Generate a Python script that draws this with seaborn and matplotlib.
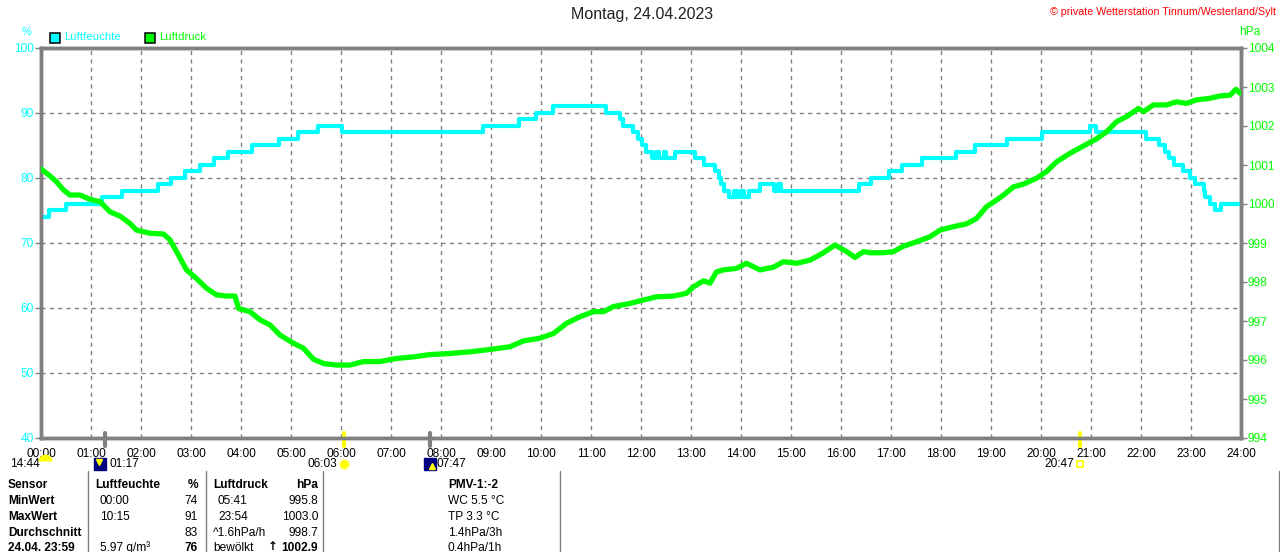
import numpy as np
import pandas as pd
import matplotlib
matplotlib.use("Agg")
import matplotlib.pyplot as plt
import matplotlib.transforms as mtransforms
from matplotlib.patches import Rectangle
from matplotlib.lines import Line2D
import seaborn as sns

# ---------------- data ----------------
hum_t = [0.00, 0.15, 0.49, 1.21, 1.61, 2.34, 2.60, 2.88, 3.17, 3.45, 3.73, 4.21, 4.75, 5.13,
         5.53, 6.02, 8.84, 9.55, 9.90, 10.23, 11.29, 11.58, 11.63, 11.83, 11.93, 12.01, 12.10,
         12.21, 12.30, 12.36, 12.45, 12.50, 12.68, 13.08, 13.25, 13.48, 13.55, 13.59, 13.65,
         13.75, 13.85, 13.92, 14.00, 14.05, 14.15, 14.38, 14.65, 14.74, 14.80, 16.36, 16.60,
         16.96, 17.22, 17.62, 18.29, 18.67, 19.33, 20.02, 20.98, 21.10, 22.09, 22.36, 22.47,
         22.56, 22.66, 22.84, 22.98, 23.08, 23.25, 23.28, 23.38, 23.48, 23.60, 24.00]
hum_v = [74, 75, 76, 77, 78, 79, 80, 81, 82, 83, 84, 85, 86, 87,
         88, 87, 88, 89, 90, 91, 90, 89, 88, 87, 86, 85, 84,
         83, 84, 83, 84, 83, 84, 83, 82, 81, 80, 79, 78,
         77, 78, 77, 78, 77, 78, 79, 78, 79, 78, 79, 80,
         81, 82, 83, 84, 85, 86, 87, 88, 87, 86, 85, 84,
         83, 82, 81, 80, 79, 78, 77, 76, 75, 76, 76]

pres_t = [0.00, 0.18, 0.31, 0.45, 0.58, 0.78, 0.98, 1.18, 1.38, 1.58, 1.78, 1.91, 2.18, 2.45,
          2.58, 2.75, 2.91, 3.11, 3.31, 3.51, 3.71, 3.88, 3.95, 4.18, 4.38, 4.58, 4.78, 5.05,
          5.25, 5.45, 5.65, 5.91, 6.18, 6.45, 6.78, 7.11, 7.45, 7.78, 8.11, 8.58, 8.98, 9.38,
          9.65, 9.98, 10.25, 10.51, 10.78, 11.05, 11.25, 11.45, 11.78, 12.05, 12.31, 12.65,
          12.91, 13.05, 13.25, 13.38, 13.51, 13.65, 13.91, 14.11, 14.38, 14.65, 14.85, 15.11,
          15.38, 15.65, 15.88, 16.11, 16.28, 16.45, 16.58, 16.85, 17.05, 17.25, 17.51, 17.78,
          17.98, 18.25, 18.51, 18.71, 18.91, 19.11, 19.25, 19.45, 19.65, 19.91, 20.11, 20.31,
          20.58, 20.85, 21.11, 21.31, 21.51, 21.71, 21.95, 22.05, 22.25, 22.51, 22.71, 22.91,
          23.11, 23.38, 23.58, 23.78, 23.90, 23.98]
pres_v = [1000.90, 1000.72, 1000.57, 1000.36, 1000.23, 1000.23, 1000.12, 1000.06, 999.80, 999.69,
          999.50, 999.33, 999.25, 999.23, 999.08, 998.69, 998.31, 998.09, 997.84, 997.67, 997.64,
          997.64, 997.32, 997.24, 997.03, 996.90, 996.64, 996.43, 996.30, 996.02, 995.91, 995.87,
          995.87, 995.96, 995.96, 996.04, 996.08, 996.14, 996.16, 996.21, 996.27, 996.34, 996.49,
          996.56, 996.68, 996.94, 997.11, 997.24, 997.24, 997.37, 997.45, 997.54, 997.62, 997.64,
          997.71, 997.88, 998.03, 997.97, 998.26, 998.31, 998.35, 998.48, 998.31, 998.38, 998.52,
          998.48, 998.56, 998.75, 998.95, 998.78, 998.63, 998.78, 998.75, 998.75, 998.78, 998.92,
          999.03, 999.16, 999.33, 999.42, 999.49, 999.63, 999.93, 1000.10, 1000.23, 1000.44,
          1000.51, 1000.66, 1000.83, 1001.08, 1001.30, 1001.49, 1001.67, 1001.85, 1002.11,
          1002.24, 1002.45, 1002.37, 1002.54, 1002.54, 1002.62, 1002.58, 1002.67, 1002.71,
          1002.77, 1002.79, 1002.94, 1002.84]

hour_ticks = list(range(0, 25))
hour_labels = [f"{h:02d}:00" for h in hour_ticks]
hum_ticks = [40, 50, 60, 70, 80, 90, 100]
pres_ticks = list(range(994, 1005))

# events (hours of day) and labels
ev_times = [1 + 17 / 60, 6 + 3 / 60, 7 + 47 / 60, 20 + 47 / 60]
ev_labels = ["01:17", "06:03", "07:47", "20:47"]
ev_colors = ["#808080", "#FFFF00", "#808080", "#FFFF00"]
prev_moon_label = "14:44"

title = "Montag, 24.04.2023"
copyright_txt = "\u00a9 private Wetterstation Tinnum/Westerland/Sylt"

table_col0 = ["Sensor", "MinWert", "MaxWert", "Durchschnitt", "24.04. 23:59"]
table_col1 = ["Luftfeuchte", "00:00", "10:15", "", "5.97 g/m\u00b3"]
table_col2 = ["%", "74", "91", "83", "76"]
table_col3 = ["Luftdruck", "05:41", "23:54", "^1.6hPa/h", "bew\u00f6lkt"]
table_col4 = ["hPa", "995.8", "1003.0", "998.7", "1002.9"]
table_col5 = ["PMV-1:-2", "WC 5.5 \u00b0C", "TP 3.3 \u00b0C", "1.4hPa/3h", "0.4hPa/1h"]

# ---------------- style ----------------
sns.set_style("white")
plt.rcParams["font.family"] = ["Liberation Sans", "DejaVu Sans"]

CYAN = "#00FFFF"
GREEN = "#00FF00"
GRAY = "#808080"
FS = 8.6

W, H = 1280, 552
fig = plt.figure(figsize=(W / 100, H / 100), dpi=100)
fig.patch.set_facecolor("white")


def fx(x):
    return x / W


def fy(y):
    return 1 - y / H


ax = fig.add_axes([fx(41), fy(438), 1200 / W, 390 / H])
ax2 = ax.twinx()

hum_df = pd.DataFrame({"t": hum_t, "v": hum_v})
pres_df = pd.DataFrame({"t": pres_t, "v": pres_v})

sns.lineplot(data=hum_df, x="t", y="v", ax=ax, color=CYAN, linewidth=3.0,
             drawstyle="steps-post", estimator=None, sort=False, zorder=3)
sns.lineplot(data=pres_df, x="t", y="v", ax=ax2, color=GREEN, linewidth=3.8,
             estimator=None, sort=False, zorder=3)

ax.set_xlim(0, 24)
ax.set_ylim(40, 100)
ax2.set_ylim(994, 1004)
ax.set_xticks(hour_ticks)
ax.set_xticklabels(hour_labels)
ax.set_yticks(hum_ticks)
ax2.set_yticks(pres_ticks)
ax.set_xlabel("")
ax.set_ylabel("")
ax2.set_ylabel("")

ax.grid(True, color=GRAY, linestyle=(0, (3, 3)), linewidth=1.0)
ax2.grid(False)
ax.set_axisbelow(True)

for a in (ax, ax2):
    for s in a.spines.values():
        s.set_color(GRAY)
        s.set_linewidth(2.5)

ax.tick_params(axis="x", colors=GRAY, labelcolor="black", length=5, width=1,
               labelsize=FS, pad=2)
ax.tick_params(axis="y", colors=GRAY, labelcolor=CYAN, length=4, width=1,
               labelsize=FS, pad=1)
ax2.tick_params(axis="y", colors=GRAY, labelcolor=GREEN, length=4, width=1,
                labelsize=FS, pad=1)
ax.patch.set_alpha(0)

# event marks across the bottom axis
trans = mtransforms.blended_transform_factory(ax.transData, ax.transAxes)
for t, c in zip(ev_times, ev_colors):
    ax.add_line(Line2D([t, t], [0.013, -0.021], transform=trans, color=c,
                       linewidth=3, clip_on=False, zorder=5))

# event labels/icons below the tick labels
yl = (438 - 464) / 390
dh = 0.12  # hour offset of label from icon

# moonset 01:17
ax.plot([ev_times[0] - 0.1], [yl], transform=trans, marker="s", markersize=8.5,
        color="#000080", clip_on=False, linestyle="none")
ax.plot([ev_times[0] - 0.12], [yl + 0.006], transform=trans, marker="v", markersize=4,
        color="#FFFF00", clip_on=False, linestyle="none")
ax.text(ev_times[0] + 0.08, yl, ev_labels[0], transform=trans, ha="left", va="center",
        fontsize=FS, color="black")

# sunrise 06:03
ax.text(ev_times[1] - dh, yl, ev_labels[1], transform=trans, ha="right", va="center",
        fontsize=FS, color="black")
ax.plot([ev_times[1]], [yl], transform=trans, marker="o", markersize=7,
        color="#FFFF00", markeredgecolor="#FFFF99", clip_on=False, linestyle="none")

# moonrise 07:47
ax.plot([ev_times[2]], [yl], transform=trans, marker="s", markersize=8.5,
        color="#000080", clip_on=False, linestyle="none")
ax.plot([ev_times[2] + 0.03], [yl - 0.006], transform=trans, marker="^", markersize=4,
        color="#FFFF00", clip_on=False, linestyle="none")
ax.text(ev_times[2] + dh, yl, ev_labels[2], transform=trans, ha="left", va="center",
        fontsize=FS, color="black")

# sunset 20:47
ax.text(ev_times[3] - dh, yl, ev_labels[3], transform=trans, ha="right", va="center",
        fontsize=FS, color="black")
ax.plot([ev_times[3]], [yl], transform=trans, marker="s", markersize=4.5,
        color="#FFFF00", markerfacecolor="none", markeredgewidth=1.2, clip_on=False,
        linestyle="none")

# previous moon event at left
fig.text(fx(10), fy(464), prev_moon_label, ha="left", va="center", fontsize=FS, color="black")
ax.plot([0.08], [yl + 0.008], transform=trans, marker="o", markersize=10, fillstyle="top",
        markerfacecolor="#FFFF00", markerfacecoloralt="none", markeredgecolor="none",
        clip_on=False, linestyle="none")

# header texts
fig.text(fx(642), fy(15), title, ha="center", va="center", fontsize=11.5, color="#222222")
fig.text(fx(1276), fy(12), copyright_txt, ha="right", va="center", fontsize=7.7, color="#FF0000")
fig.text(fx(27), fy(32), "%", ha="center", va="center", fontsize=8, color=CYAN)
fig.text(fx(1250), fy(32), "hPa", ha="center", va="center", fontsize=FS, color=GREEN)

# legend
for (x0, label, col, tx) in [(50, "Luftfeuchte", CYAN, 64), (145, "Luftdruck", GREEN, 159)]:
    fig.add_artist(Rectangle((fx(x0), fy(42.5)), 10 / W, 10 / H, transform=fig.transFigure,
                             facecolor=col, edgecolor="black", linewidth=1.1))
    fig.text(fx(tx), fy(37.5), label, ha="left", va="center", fontsize=8.2, color=col)

# table
rows_y = [485, 501, 517, 533, 548]
for i, y in enumerate(rows_y):
    fig.text(fx(8), fy(y), table_col0[i], ha="left", va="center", fontsize=FS,
             fontweight="bold", color="black")
    fig.text(fx(95 if i == 0 else 100), fy(y), table_col1[i], ha="left", va="center",
             fontsize=FS, fontweight="bold" if i == 0 else "normal", color="black")
    fig.text(fx(198), fy(y), table_col2[i], ha="right", va="center", fontsize=FS,
             fontweight="bold" if i in (0, 4) else "normal", color="black")
    fig.text(fx(213 if i in (0, 3, 4) else 218), fy(y), table_col3[i], ha="left", va="center",
             fontsize=FS, fontweight="bold" if i == 0 else "normal", color="black")
    fig.text(fx(318), fy(y), table_col4[i], ha="right", va="center", fontsize=FS,
             fontweight="bold" if i in (0, 4) else "normal", color="black")
    fig.text(fx(448), fy(y), table_col5[i], ha="left", va="center", fontsize=FS,
             fontweight="bold" if i == 0 else "normal", color="black")

# trend arrow before last pressure value
fig.text(fx(273), fy(546), "\u2191", ha="center", va="center", fontsize=8.5,
         fontweight="bold", color="black", family=["DejaVu Sans"])

for xs in [88, 206, 323, 560, 1279]:
    fig.add_artist(Line2D([fx(xs), fx(xs)], [fy(471), fy(552)], transform=fig.transFigure,
                          color=GRAY, linewidth=1))

fig.savefig("out.png", dpi=100, facecolor="white")
